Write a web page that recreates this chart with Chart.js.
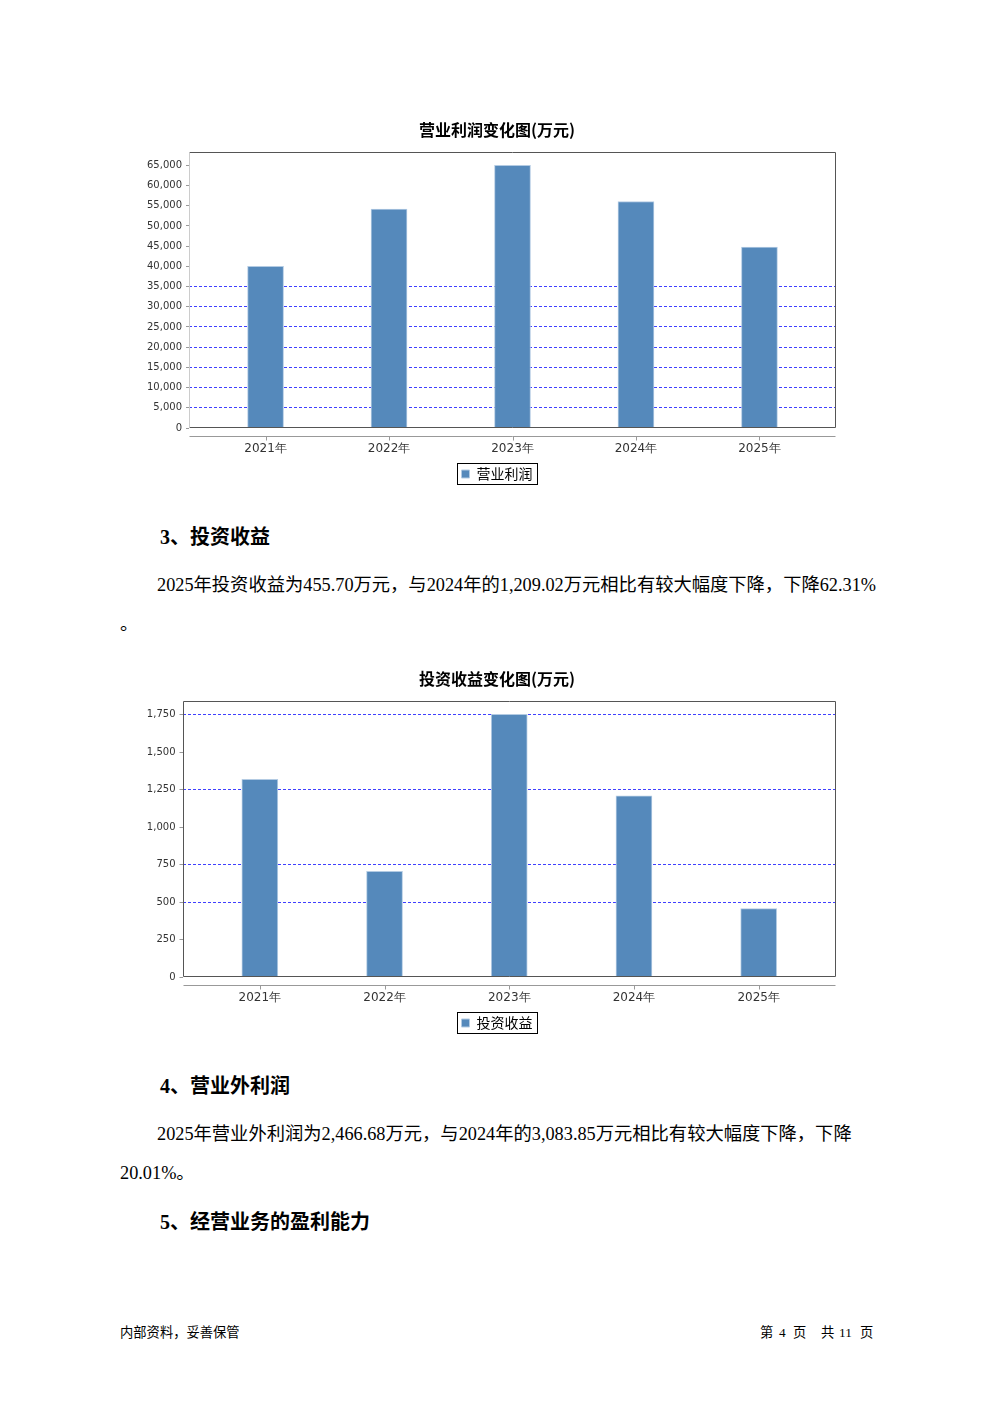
<!DOCTYPE html>
<html>
<head>
<meta charset="utf-8">
<script src="https://cdn.jsdelivr.net/npm/chart.js@4.4.1/dist/chart.umd.min.js"></script>
<style>
  body { margin: 0; background: #fff; }
  #page { position: relative; width: 992px; height: 1403px; overflow: hidden; }
  .t { position: absolute; white-space: nowrap; line-height: 1; color: #000;
       font-family: "Liberation Serif", "Noto Sans CJK SC", serif; }
  .h { font-size: 20px; font-weight: bold; }
  .p { font-size: 18.3px; }
  .f { font-size: 13.3px; font-family: "Liberation Serif", "Noto Sans CJK SC", sans-serif; }
  .box { position: absolute; left: 120px; width: 740px; height: 381px; }
</style>
</head>
<body>
<div id="page">
  <div class="box" style="top:110px"><canvas id="opChart"></canvas></div>

  <div class="t h" style="left:160px; top:527px">3、投资收益</div>
  <div class="t p" style="left:157px; top:576px">2025年投资收益为455.70万元，与2024年的1,209.02万元相比有较大幅度下降，下降62.31%</div>
  <div class="t p" style="left:120px; top:615px">。</div>

  <div class="box" style="top:659px"><canvas id="invChart"></canvas></div>

  <div class="t h" style="left:160px; top:1076px">4、营业外利润</div>
  <div class="t p" style="left:157px; top:1125px">2025年营业外利润为2,466.68万元，与2024年的3,083.85万元相比有较大幅度下降，下降</div>
  <div class="t p" style="left:120px; top:1164px">20.01%。</div>
  <div class="t h" style="left:160px; top:1212px">5、经营业务的盈利能力</div>

  <div class="t f" style="left:120px; top:1326px">内部资料，妥善保管</div>
  <div class="t f" style="left:760px; top:1326px">第</div>
  <div class="t f" style="left:779px; top:1326px">4</div>
  <div class="t f" style="left:793px; top:1326px">页</div>
  <div class="t f" style="left:821px; top:1326px">共</div>
  <div class="t f" style="left:839px; top:1326px">11</div>
  <div class="t f" style="left:860px; top:1326px">页</div>
</div>

<script>
// chart data (万元)
const years = ['2021年', '2022年', '2023年', '2024年', '2025年'];
const opProfit = [40000, 54150, 65000, 56040, 44780];
const invIncome = [1318.7, 704, 1752, 1209.02, 455.70];

// y tick labels
const opTicks = [0, 5000, 10000, 15000, 20000, 25000, 30000, 35000, 40000, 45000, 50000, 55000, 60000, 65000];
const invTicks = [0, 250, 500, 750, 1000, 1250, 1500, 1750];

// only these gridlines show up in the original
const opGrid = [5000, 10000, 15000, 20000, 25000, 30000, 35000];
const invGrid = [500, 750, 1250, 1750];

const BAR = '#5589bb';

// plot frame, detached category axis line and a boxed legend
const framePlugin = {
  id: 'frame',
  afterLayout(chart, args, opts) {
    // title and legend are centred on the page, not on the plot
    [chart.titleBlock, chart.legend].forEach(b => { b.left += opts.shift; b.right += opts.shift; });
  },
  afterDraw(chart, args, opts) {
    const { ctx, chartArea: a, scales: { x } } = chart;
    const l = Math.round(a.left) + 0.5, r = Math.round(a.right) - 0.5;
    const t = Math.round(a.top) + 0.5, b = Math.round(a.bottom) - 0.5;
    ctx.save();
    ctx.lineWidth = 1;
    ctx.strokeStyle = '#555';
    ctx.beginPath();
    ctx.moveTo(l, t); ctx.lineTo(r, t); ctx.lineTo(r, b); ctx.lineTo(l, b);
    ctx.stroke();
    ctx.strokeStyle = opts.leftColor;
    ctx.beginPath(); ctx.moveTo(l, t); ctx.lineTo(l, b); ctx.stroke();

    // category axis sits a little below the plot
    const ay = b + 9;
    ctx.strokeStyle = '#999';
    ctx.beginPath(); ctx.moveTo(l, ay); ctx.lineTo(r, ay);
    years.forEach((_, i) => {
      const px = Math.round(x.getPixelForValue(i)) + 0.5;
      ctx.moveTo(px, ay); ctx.lineTo(px, ay + 4);
    });
    ctx.stroke();

    const hb = chart.legend.legendHitBoxes[0];
    if (hb) {
      ctx.strokeStyle = '#000';
      ctx.strokeRect(Math.round(hb.left) - 4.5, Math.round(hb.top) - 3.5, Math.round(hb.width) + 9, Math.round(hb.height) + 7);
    }
    ctx.restore();
  }
};

function makeChart(id, title, name, values, tickVals, gridVals, axisWidth, leftColor) {
  return new Chart(document.getElementById(id), {
    type: 'bar',
    data: {
      datasets: [{
        label: name,
        data: values.map((v, i) => ({ x: i, y: v })),
        backgroundColor: BAR,
        borderColor: '#b3cbe3',
        borderWidth: 1,
        barThickness: 36
      }]
    },
    options: {
      responsive: true,
      maintainAspectRatio: false,
      animation: false,
      layout: { padding: { left: 0, right: 24, top: 0, bottom: 0 } },
      plugins: {
        title: {
          display: true, text: title, color: '#000',
          font: { family: 'Noto Sans CJK SC', size: 16, weight: 'bold' },
          padding: { top: 10, bottom: 13 }
        },
        legend: {
          position: 'bottom',
          labels: {
            boxWidth: 8, boxHeight: 8, padding: 9, color: '#000',
            font: { family: 'Noto Sans CJK SC', size: 14 }
          }
        },
        tooltip: { enabled: false },
        frame: { leftColor: leftColor, shift: 19 }
      },
      scales: {
        x: {
          type: 'linear',
          offset: false,
          min: -0.62, max: years.length - 1 + 0.62,
          afterBuildTicks: axis => { axis.ticks = years.map((_, i) => ({ value: i })); },
          afterFit: s => { s.height = 30; },
          grid: { display: false, drawTicks: false },
          border: { display: false },
          ticks: {
            padding: 14, color: '#333', maxRotation: 0,
            font: { family: 'DejaVu Sans', size: 12 },
            callback: v => years[v]
          }
        },
        y: {
          min: 0,
          max: Math.max(...values) * 1.05,
          afterBuildTicks: axis => { axis.ticks = tickVals.map(v => ({ value: v })); },
          afterFit: s => { s.width = axisWidth; },
          border: { display: false, dash: [3, 2] },
          grid: {
            color: c => gridVals.includes(c.tick.value) ? '#4040ff' : 'rgba(0,0,0,0)',
            tickColor: '#999', tickLength: 3, tickBorderDash: []
          },
          ticks: {
            padding: 4, color: '#333',
            font: { family: 'DejaVu Sans', size: 10 },
            callback: v => v.toLocaleString('en-US')
          }
        }
      }
    },
    plugins: [framePlugin]
  });
}

makeChart('opChart', '营业利润变化图(万元)', '营业利润', opProfit, opTicks, opGrid, 69, '#ccc');
makeChart('invChart', '投资收益变化图(万元)', '投资收益', invIncome, invTicks, invGrid, 62.5, '#555');
</script>
</body>
</html>
